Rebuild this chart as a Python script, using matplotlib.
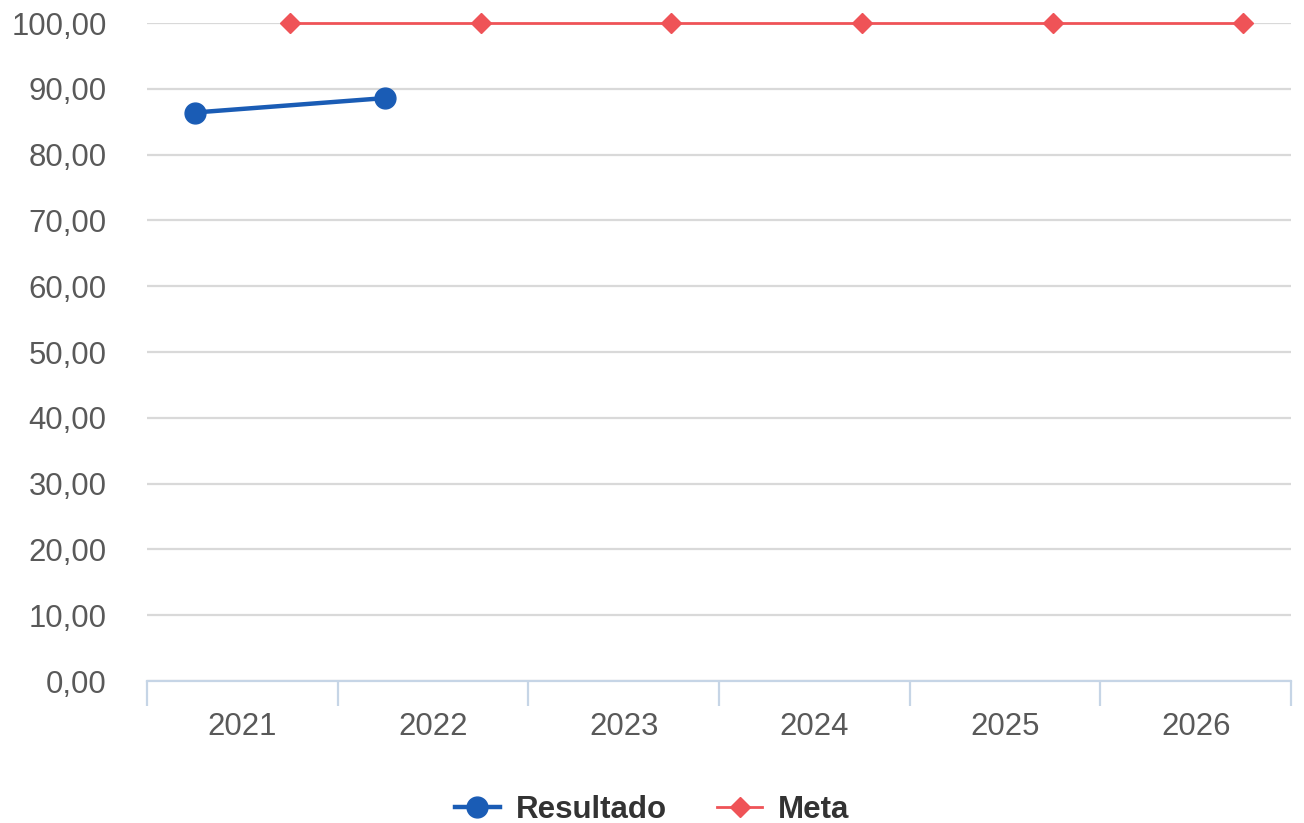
import numpy as np
import matplotlib.pyplot as plt
from matplotlib.ticker import FuncFormatter

anos = ["2021", "2022", "2023", "2024", "2025", "2026"]
resultado = [86.4, 88.6]
meta = [100, 100, 100, 100, 100, 100]

plt.rcParams['font.family'] = ['Liberation Sans', 'DejaVu Sans']

fig = plt.figure(figsize=(13.04, 8.23), dpi=100)
ax = fig.add_axes([0.1127, 0.1725, 0.8773, 0.7995])

x = np.arange(len(anos))
ax.plot(x[:len(resultado)] - 0.25, resultado, color="#1a5cb5", lw=3.2,
        marker="o", markersize=15, label="Resultado", zorder=4, clip_on=False)
ax.plot(x + 0.25, meta, color="#ef5357", lw=2,
        marker="D", markersize=10, label="Meta", zorder=3, clip_on=False)

ax.set_xlim(-0.5, len(anos) - 0.5)
ax.set_ylim(0, 100)
ax.set_yticks(np.arange(0, 101, 10))
ax.yaxis.set_major_formatter(FuncFormatter(lambda v, p: f"{v:.2f}".replace(".", ",")))
ax.grid(axis="y", color="#d9d9d9", lw=1.6, zorder=0)
ax.set_axisbelow(True)

ax.set_xticks(x)
ax.set_xticklabels(anos)
ax.set_xticks(np.arange(len(anos) + 1) - 0.5, minor=True)
ax.tick_params(axis="x", which="major", length=0, pad=22, labelsize=22.4, labelcolor="#595959")
ax.tick_params(axis="x", which="minor", length=18, width=1.6, color="#c6d5e6")
ax.tick_params(axis="y", length=0, pad=29, labelsize=22.4, labelcolor="#595959")

for s in ["top", "right", "left"]:
    ax.spines[s].set_visible(False)
ax.spines["bottom"].set_color("#c6d5e6")
ax.spines["bottom"].set_linewidth(1.6)

leg = fig.legend(loc="center", bbox_to_anchor=(0.5, 0.016), ncol=2, frameon=False,
                 prop={"size": 22.5, "weight": "bold"}, handlelength=1.45, columnspacing=1.6,
                 handletextpad=0.5)
for t in leg.get_texts():
    t.set_color("#333333")

fig.savefig("out.png", dpi=100)
